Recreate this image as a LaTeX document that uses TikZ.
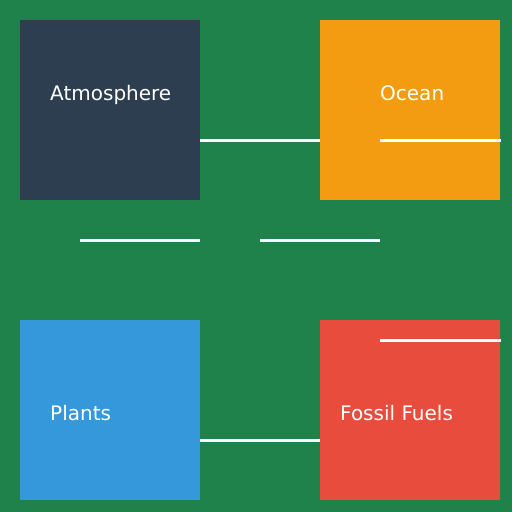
\documentclass[tikz,border=0pt]{standalone}
\usepackage{fontspec}
\setmainfont{DejaVu Sans}
\usepackage{xcolor}
\usepackage{tikz}
\usetikzlibrary{positioning}
\definecolor{bggreen}{HTML}{1F824A}
\definecolor{atmcol}{HTML}{2C3E50}
\definecolor{oceancol}{HTML}{F39C12}
\definecolor{plantcol}{HTML}{3498DB}
\definecolor{fossilcol}{HTML}{E74C3C}
\tikzstyle{pool} = [rectangle, minimum size=180pt, inner sep=0pt, draw=none]
\tikzstyle{lbl} = [anchor=base west, inner sep=0pt, text=white, font=\fontsize{20}{24}\selectfont]
\tikzstyle{flow} = [draw=white, line width=3pt]

\begin{document}
\begin{tikzpicture}[x=1pt, y=-1pt]

\fill[bggreen] (0,0) rectangle (512,512);
\useasboundingbox (0,0) rectangle (512,512);

\node (atm) [pool, fill=atmcol] at (110,110) {};
\node (ocean) [pool, fill=oceancol, right=120pt of atm] {};
\node (plants) [pool, fill=plantcol, below=120pt of atm] {};
\node (fossil) [pool, fill=fossilcol, right=120pt of plants] {};

\node (atmlbl) [lbl] at (50,100) {Atmosphere};
\node (oceanlbl) [lbl] at (380,100) {Ocean};
\node (plantslbl) [lbl] at (50,420) {Plants};
\node (fossillbl) [lbl] at (340,420) {Fossil Fuels};

\draw[flow] ([yshift=-30pt]atm.east) -- ([yshift=-30pt]ocean.west);
\draw[flow] ([xshift=60pt,yshift=-30pt]ocean.west) -- ([yshift=-30pt]ocean.east);
\draw[flow] ([shift={(-30pt,-40pt)}]atm.south) -- ([yshift=-40pt]atm.south east);
\draw[flow] ([shift={(-150pt,-40pt)}]ocean.south) -- ([shift={(-30pt,-40pt)}]ocean.south);
\draw[flow] ([shift={(60pt,-20pt)}]fossil.north west) -- ([yshift=-20pt]fossil.north east);
\draw[flow] ([yshift=-30pt]plants.east) -- ([yshift=-30pt]fossil.west);

\end{tikzpicture}
\end{document}
